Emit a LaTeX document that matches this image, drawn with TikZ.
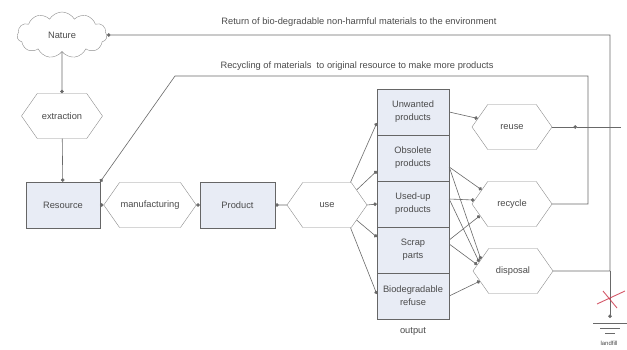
\documentclass[tikz,border=0pt]{standalone}
\usepackage{fontspec}
\setmainfont{Liberation Sans}
\usetikzlibrary{shapes.symbols,arrows.meta,calc}
\definecolor{boxfill}{RGB}{232,236,245}
\definecolor{linegray}{RGB}{105,105,105}
\definecolor{txtgray}{RGB}{75,75,75}
\definecolor{xred}{RGB}{205,60,80}
\begin{document}
\begin{tikzpicture}[x=1pt,y=-1pt,
  every node/.style={font=\fontsize{9.3}{13}\selectfont, text=txtgray, align=center},
  boxn/.style={draw=black!60, fill=boxfill, minimum width=74pt, minimum height=46pt, inner sep=1pt},
  outbox/.style={draw=black!60, fill=boxfill, minimum width=72pt, minimum height=46pt, inner sep=1pt},
  hexn/.style={draw=black!45, fill=white, signal, signal to=east and west, signal pointer angle=110, minimum width=80pt, minimum height=45pt, inner sep=1pt},
  conn/.style={draw=linegray, line width=0.6pt, -{Circle[length=3.6pt]}},
  plainl/.style={draw=linegray, line width=0.6pt}
]
\fill[white] (0,0) rectangle (627,350);
\useasboundingbox (0,0) rectangle (627,350);

% nodes
\node[cloud, draw=black!45, cloud puffs=11, cloud puff arc=120, aspect=2, minimum width=90pt, minimum height=46pt, inner sep=0pt] (nat) at (62,35) {Nature};
\node[hexn, minimum width=81pt] (ext) at (62,116) {extraction};
\node[boxn] (res) at (63,205) {Resource};
\node[hexn] (man) at (150,205) {manufacturing};
\node[boxn, minimum width=75pt] (prod) at (237.5,205) {Product};
\node[hexn] (use) at (327,205) {use};

\node[outbox] (unw) at (413,112) {Unwanted\\products};
\node[outbox] (obs) at (413,158) {Obsolete\\products};
\node[outbox] (used) at (413,204) {Used-up\\products};
\node[outbox] (scrap) at (413,250) {Scrap\\parts};
\node[outbox] (bio) at (413,296) {Biodegradable\\refuse};
\node (outl) at (413,331) {output};

\node[hexn] (reuse) at (512,127) {reuse};
\node[hexn] (recy) at (512,204) {recycle};
\node[hexn] (disp) at (513,271) {disposal};

\node (rettxt) at (359,22) {Return of bio-degradable non-harmful materials to the environment};
\node (rectxt) at (357,66) {Recycling of materials\ \ to original resource to make more products};
\node[font=\fontsize{6}{7}\selectfont] (lf) at (609,343) {landfill};

% coordinates
\coordinate (c1) at (610,35);
\coordinate (gnd) at (610,318);
\coordinate (r1) at (588,204);
\coordinate (r2) at (588,76);
\coordinate (r3) at (175,76);
\coordinate (rd) at (577,127);
\coordinate (rend) at (621,127);

% main chain
\draw[conn] (nat) -- (ext);
\draw[conn] (ext) -- (res);
\draw[conn] (res) -- (man);
\draw[conn] (man) -- (prod);
\draw[conn] (use) -- (prod);

% use fan
\draw[conn] (use.44) -- ([yshift=-11pt]unw.west);
\draw[conn] (use.27) -- ([yshift=-13pt]obs.west);
\draw[conn] (use.east) -- (used.west);
\draw[conn] (use.-27) -- ([yshift=13pt]scrap.west);
\draw[conn] (use.-44) -- ([yshift=2pt]bio.west);

% output to hexagons
\draw[conn] (unw.east) -- (reuse.166);
\draw[conn] ([yshift=-9pt]obs.east) -- (recy.155);
\draw[conn] ([yshift=-9pt]obs.east) -- (disp.160);
\draw[conn] ([yshift=5pt]used.east) -- (recy.174);
\draw[conn] ([yshift=5pt]used.east) -- (disp.165);
\draw[conn] ([yshift=10pt]scrap.east) -- (recy.200);
\draw[conn] ([yshift=6pt]scrap.east) -- (disp.170);
\draw[conn] (bio.east) -- (disp.197);

% reuse
\draw[conn] (reuse.east) -- (rd);
\draw[plainl] (rd) -- (rend);

% recycle back to resource
\draw[conn] (recy.east) -- (r1) -- (r2) -- (r3) -- (res.north east);

% disposal / return
\draw[conn] (disp.east) -| (c1) -- (nat.east);
\draw[conn] (disp.east -| c1) -- (gnd);

% ground symbol
\draw[plainl] (593,323) -- (627,323);
\draw[plainl] (600,328) -- (620,328);
\draw[plainl] (605,333) -- (615,333);

% red cross
\draw[xred, opacity=0.85, line width=0.9pt] (597,304) -- (625,291);
\draw[xred, opacity=0.85, line width=0.9pt] (603,291) -- (617,308);
\end{tikzpicture}
\end{document}
